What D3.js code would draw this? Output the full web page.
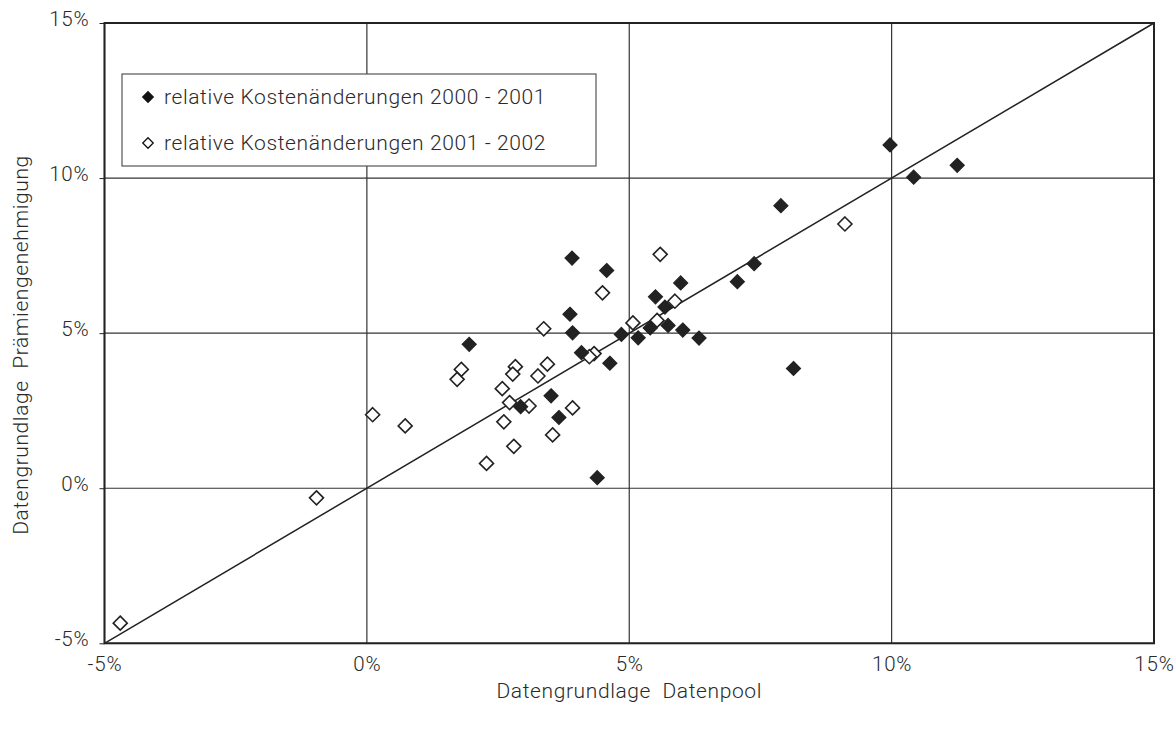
<!DOCTYPE html>
<html><head><meta charset="utf-8">
<script src="https://cdn.jsdelivr.net/npm/d3@7"></script>
<style>body{margin:0;background:#fff}</style>
</head><body>
<script>
// Series 2000-2001 (filled diamonds): [Datenpool %, Prämiengenehmigung %]
const series2001 = [
  [3.91,7.42],[4.57,7.02],[5.98,6.62],[7.06,6.66],[7.38,7.24],[5.50,6.17],[5.68,5.84],
  [3.87,5.61],[3.92,5.01],[4.85,4.96],[5.40,5.17],[5.74,5.25],[6.02,5.10],[5.17,4.85],
  [6.33,4.84],[1.95,4.64],[4.09,4.37],[4.63,4.03],[3.51,2.98],[2.93,2.63],[3.66,2.28],
  [4.39,0.34],[9.97,11.07],[10.42,10.03],[11.25,10.41],[7.89,9.11],[8.13,3.86]
];
// Series 2001-2002 (open diamonds)
const series2002 = [
  [5.59,7.54],[4.49,6.30],[5.87,6.03],[5.07,5.33],[5.53,5.41],[3.37,5.14],[4.33,4.34],
  [4.24,4.24],[1.80,3.83],[1.72,3.51],[2.83,3.92],[2.78,3.68],[3.44,4.00],[3.26,3.62],
  [2.58,3.21],[2.72,2.76],[3.09,2.65],[3.92,2.59],[0.11,2.37],[0.73,2.01],[2.61,2.14],
  [3.54,1.72],[2.80,1.35],[2.28,0.80],[9.11,8.52],[-0.96,-0.31],[-4.70,-4.35]
];
const xTicks = [-5,0,5,10,15];
const yTicks = [-5,0,5,10,15];
const seriesNames = ["relative Kostenänderungen 2000 - 2001","relative Kostenänderungen 2001 - 2002"];
const xTitle = "Datengrundlage\u00a0\u00a0Datenpool";
const yTitle = "Datengrundlage\u00a0\u00a0Prämiengenehmigung";
const diagonal = [[-5,-5],[15,15]];

const W=1176,H=731;
const L=104.5,R=1154,T=23,B=643.3;
const font="Roboto, 'Liberation Sans', sans-serif";
const txt="#2a2a2a";
const svg=d3.select("body").append("svg").attr("width",W).attr("height",H);
const x=d3.scaleLinear().domain([-5,15]).range([L,R]);
const y=d3.scaleLinear().domain([-5,15]).range([B,T]);

// grid
const g=svg.append("g");
g.selectAll(".vx").data(xTicks).join("line")
  .attr("x1",d=>x(d)).attr("x2",d=>x(d)).attr("y1",T).attr("y2",B)
  .attr("stroke","#333").attr("stroke-width",1.2);
g.selectAll(".hy").data(yTicks).join("line")
  .attr("x1",L).attr("x2",R).attr("y1",d=>y(d)).attr("y2",d=>y(d))
  .attr("stroke","#333").attr("stroke-width",1.2);

// axes (labels)
const xAxis=d3.axisBottom(x).tickValues(xTicks).tickFormat(d=>d+"%").tickSize(0).tickPadding(13);
const xa=svg.append("g").attr("transform",`translate(0,${B})`).call(xAxis);
xa.select(".domain").remove();
xa.selectAll("text").attr("font-family",font).attr("font-size",20.5).attr("font-weight",300)
  .attr("letter-spacing","0.8px").attr("fill",txt);
const yAxis=d3.axisLeft(y).tickValues(yTicks).tickFormat(d=>d+"%").tickSize(5).tickPadding(10);
const ya=svg.append("g").attr("transform",`translate(${L},0)`).call(yAxis);
ya.select(".domain").remove();
ya.selectAll("line").attr("stroke","#222");
ya.selectAll("text").attr("font-family",font).attr("font-size",20.5).attr("font-weight",300)
  .attr("letter-spacing","0.8px").attr("fill",txt).attr("dy","0.1em");

// border
svg.append("rect").attr("x",L).attr("y",T).attr("width",R-L).attr("height",B-T)
  .attr("fill","none").attr("stroke","#222").attr("stroke-width",2);

// diagonal
svg.append("path").datum(diagonal).attr("d",d3.line().x(d=>x(d[0])).y(d=>y(d[1])))
  .attr("stroke","#222").attr("stroke-width",1.5).attr("fill","none");

const diamond=d3.symbol().type(d3.symbolDiamond2).size(125);
svg.append("g").selectAll("path").data(series2002).join("path")
  .attr("transform",d=>`translate(${x(d[0])},${y(d[1])})`).attr("d",diamond)
  .attr("fill","#fff").attr("stroke","#222").attr("stroke-width",1.6);
svg.append("g").selectAll("path").data(series2001).join("path")
  .attr("transform",d=>`translate(${x(d[0])},${y(d[1])})`).attr("d",diamond)
  .attr("fill","#222").attr("stroke","#222").attr("stroke-width",1.2);

// legend
const lg=svg.append("g");
lg.append("rect").attr("x",122).attr("y",74).attr("width",474).attr("height",92)
  .attr("fill","#fff").attr("stroke","#555").attr("stroke-width",1.2);
const small=d3.symbol().type(d3.symbolDiamond2).size(70);
seriesNames.forEach((n,i)=>{
  const yy=97+i*46;
  lg.append("path").attr("transform",`translate(148,${yy})`).attr("d",small)
    .attr("fill",i===0?"#111":"#fff").attr("stroke","#111").attr("stroke-width",1.3);
  lg.append("text").attr("x",164).attr("y",yy).attr("dy","0.35em")
    .attr("font-family",font).attr("font-size",21).attr("font-weight",300)
    .attr("letter-spacing","0.6px").attr("fill",txt).text(n);
});

// titles
svg.append("text").attr("x",(L+R)/2).attr("y",698).attr("text-anchor","middle")
  .attr("font-family",font).attr("font-size",21).attr("font-weight",300)
  .attr("letter-spacing","0.6px").attr("fill",txt).text(xTitle);
svg.append("text").attr("transform",`translate(28,345) rotate(-90)`).attr("text-anchor","middle")
  .attr("font-family",font).attr("font-size",21).attr("font-weight",300)
  .attr("letter-spacing","0.6px").attr("fill",txt).text(yTitle);
</script>
</body></html>
